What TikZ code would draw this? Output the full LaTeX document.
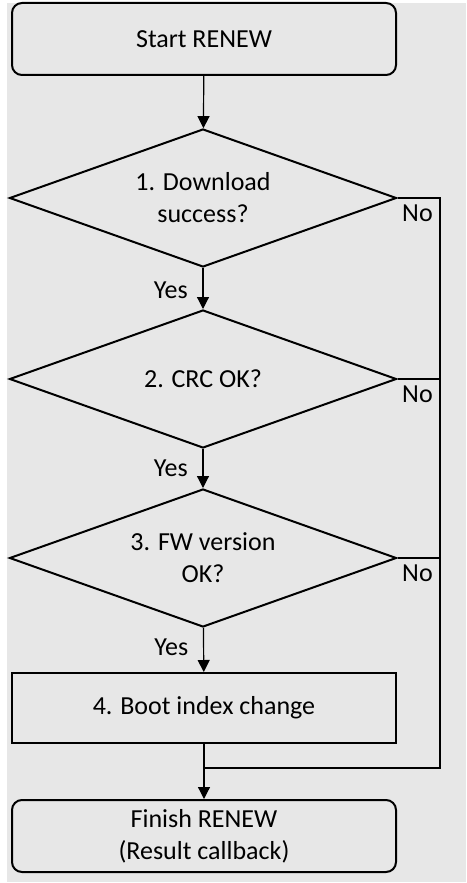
\documentclass[tikz,border=0pt]{standalone}
\usepackage{fontspec}
\setmainfont{Carlito}
\usetikzlibrary{shapes.geometric,arrows.meta}
\definecolor{bggray}{HTML}{E7E7E7}

\begin{document}
\begin{tikzpicture}[x=0.5pt,y=-0.5pt,
        font=\fontsize{13}{16}\selectfont,
        >={Triangle[width=6pt,length=6pt]},
        termbox/.style={draw,line width=1pt,rounded corners=5pt,minimum width=192pt,minimum height=36pt,align=center},
        procbox/.style={draw,line width=1pt,minimum width=192pt,minimum height=35pt},
        decision/.style={draw,diamond,aspect=2.8,line width=1pt,minimum width=193.5pt,minimum height=69pt,inner sep=1pt,align=center},
        flow/.style={line width=0.6pt},
        yeslab/.style={left=4pt},
        nolab/.style={below left}]
            \useasboundingbox (0,0) rectangle (466,883);
            \fill[bggray] (7,3) rectangle (466,882);
            \node[termbox] (start) at (204,39) {Start RENEW};
            \node[decision] (dl) at (203,198) {1. Download\\success?};
            \node[decision] (crc) at (203,379) {2. CRC OK?};
            \node[decision] (fw) at (203,558) {3. FW version\\OK?};
            \node[procbox] (boot) at (204,708) {4. Boot index change};
            \node[termbox] (finish) at (204,836) {Finish RENEW\\(Result callback)};
            \coordinate (join) at (204,768);
            \coordinate (rt) at (440,768);
            \draw[flow,->] (start) -- (dl);
            \draw[flow,->] (dl) -- node[yeslab,pos=0.55]{Yes} (crc);
            \draw[flow,->] (crc) -- node[yeslab]{Yes} (fw);
            \draw[flow,->] (fw) -- node[yeslab,pos=0.45]{Yes} (boot);
            \draw[flow,->] (boot) -- (finish);
            \draw[flow] (dl.east) -| node[nolab,pos=0.5]{No} (rt) -- (join);
            \draw[flow] (crc.east) -- (crc.east -| rt) node[nolab]{No};
            \draw[flow] (fw.east) -- (fw.east -| rt) node[nolab]{No};
        \end{tikzpicture}
\end{document}
